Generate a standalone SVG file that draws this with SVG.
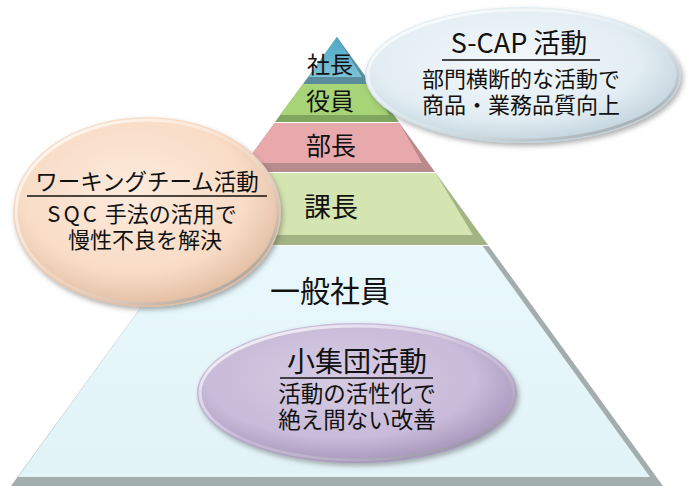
<svg xmlns="http://www.w3.org/2000/svg" width="689" height="486" viewBox="0 0 689 486">
<defs>
<style>
text{font-family:"Noto Sans CJK JP","Noto Sans",sans-serif;fill:#111;text-anchor:middle}
.ul{stroke:#111;stroke-width:1.5}
.rim{fill:none;stroke-width:3}
</style>
<linearGradient id="gBlue" x1="0" y1="0" x2="0" y2="1"><stop offset="0" stop-color="#4fa6c2"/><stop offset="1" stop-color="#7cc2d8"/></linearGradient>
<linearGradient id="gBottom" x1="0" y1="0" x2="0" y2="1"><stop offset="0" stop-color="#e8f8fc"/><stop offset="1" stop-color="#e2f3f7"/></linearGradient>
<radialGradient id="gCap" cx="0.45" cy="0.4" r="0.6"><stop offset="0" stop-color="#f3f8fb"/><stop offset="0.7" stop-color="#e2edf3"/><stop offset="1" stop-color="#c3d4dd"/></radialGradient>
<radialGradient id="gOr" cx="0.45" cy="0.4" r="0.6"><stop offset="0" stop-color="#fdebdd"/><stop offset="0.7" stop-color="#f8dcc6"/><stop offset="1" stop-color="#e2bea2"/></radialGradient>
<radialGradient id="gPu" cx="0.45" cy="0.4" r="0.6"><stop offset="0" stop-color="#d6cbe3"/><stop offset="0.7" stop-color="#c9bbd9"/><stop offset="1" stop-color="#a896bc"/></radialGradient>
<linearGradient id="rimG" x1="0" y1="0" x2="1" y2="1"><stop offset="0" stop-color="#ffffff" stop-opacity="0.9"/><stop offset="0.5" stop-color="#ffffff" stop-opacity="0.2"/><stop offset="1" stop-color="#6f767a" stop-opacity="0.8"/></linearGradient>
<filter id="sh" x="-10%" y="-10%" width="125%" height="130%"><feDropShadow dx="2" dy="3" stdDeviation="2.5" flood-color="#555" flood-opacity="0.45"/></filter>
</defs>

<g id="layer-bottom">
<polygon points="185.3,246 488.7,246 663,486 11,486" fill="#a3adad"/>
<polygon points="185.3,246 482.7,246 650,477 18,477" fill="url(#gBottom)"/>
<text x="330" y="302" font-size="30">一般社員</text>
</g>
<g id="layer-kacho">
<polygon points="238.3,173 435.7,173 488,245 186,245" fill="#a2b384"/>
<polygon points="238.3,173 435.7,173 473,235 193.3,235" fill="#d4e5b1"/>
<text x="331" y="217" font-size="27">課長</text>
</g>
<g id="layer-bucho">
<polygon points="274.6,123 399.4,123 435,172 239,172" fill="#b88b8d"/>
<polygon points="274.6,123 399.4,123 422,163 245.5,163" fill="#e8a9ad"/>
<text x="331" y="155" font-size="25">部長</text>
</g>
<g id="layer-yakuin">
<polygon points="303,84 371,84 399,122 275,122" fill="#7ea65c"/>
<polygon points="303,84 371,84 389,115 280,115" fill="#a6d476"/>
<text x="330" y="110" font-size="24">役員</text>
</g>
<g id="layer-shacho">
<polygon points="337,37 371,84 303,84" fill="#5b8c9d"/>
<polygon points="337,37 362,77 308,77" fill="url(#gBlue)"/>
<text x="330" y="73" font-size="23">社長</text>
</g>

<g id="connectors"/>

<g id="scap">
<ellipse cx="523" cy="75" rx="158" ry="68" fill="url(#gCap)" filter="url(#sh)"/>
<ellipse cx="523" cy="75" rx="155" ry="65" class="rim" stroke="url(#rimG)"/>
<text x="519" y="53" font-size="27">S-CAP 活動</text>
<line class="ul" x1="442" y1="60" x2="600" y2="60"/>
<text x="521" y="87" font-size="22">部門横断的な活動で</text>
<text x="521" y="113" font-size="22">商品・業務品質向上</text>
</g>

<g id="working">
<ellipse cx="147" cy="212" rx="134" ry="95" fill="url(#gOr)" filter="url(#sh)"/>
<ellipse cx="147" cy="212" rx="131" ry="92" class="rim" stroke="url(#rimG)"/>
<text x="147" y="190" font-size="22.5">ワーキングチーム活動</text>
<line class="ul" x1="27" y1="196" x2="267" y2="196"/>
<text x="142" y="222" font-size="22"><tspan letter-spacing="3">SQC</tspan> 手法の活用で</text>
<text x="145" y="248" font-size="22">慢性不良を解決</text>
</g>

<g id="shoshudan">
<ellipse cx="357" cy="393" rx="160" ry="70" fill="url(#gPu)" filter="url(#sh)"/>
<ellipse cx="357" cy="393" rx="157" ry="67" class="rim" stroke="url(#rimG)"/>
<text x="357" y="372" font-size="28">小集団活動</text>
<line class="ul" x1="280" y1="378" x2="433" y2="378"/>
<text x="357" y="402" font-size="22.5">活動の活性化で</text>
<text x="357" y="428" font-size="22.5">絶え間ない改善</text>
</g>
</svg>
